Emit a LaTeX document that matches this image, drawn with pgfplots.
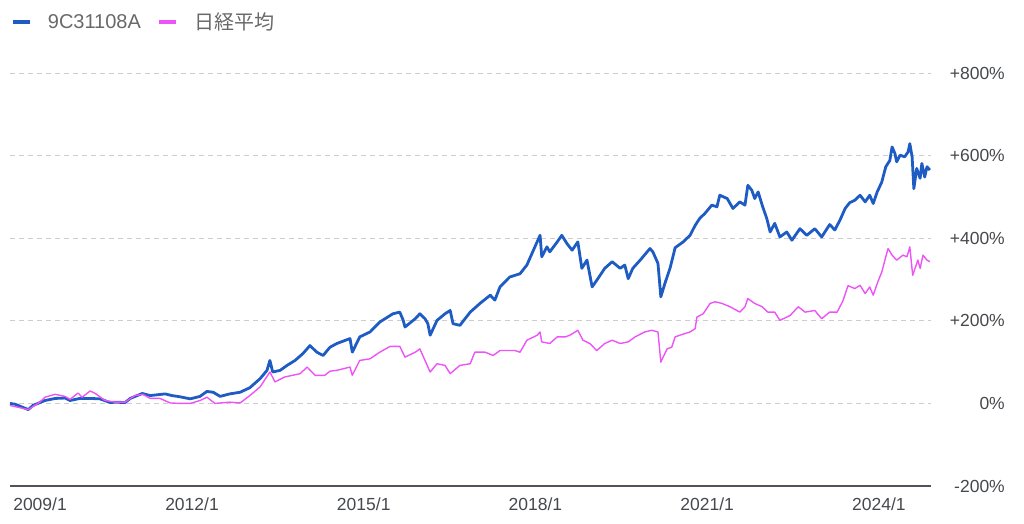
\documentclass[border=0pt]{standalone}
\usepackage{fontspec}
\setmainfont{Liberation Sans}
\newfontfamily\jp{Noto Sans CJK JP}
\usepackage{pgfplots}
\pgfplotsset{compat=1.18}
\definecolor{fundblue}{RGB}{30,92,196}
\definecolor{nikkei}{RGB}{236,84,246}
\definecolor{ticktext}{RGB}{70,72,76}
\definecolor{legtext}{RGB}{105,105,105}
\definecolor{gridc}{RGB}{205,205,205}
\definecolor{axisc}{RGB}{80,84,90}
\begin{document}
\begin{tikzpicture}
\useasboundingbox (0,0) rectangle (1024bp,524bp);
\begin{axis}[
  at={(10bp,38bp)}, anchor=south west,
  scale only axis, width=921bp, height=413bp,
  xmin=2008.82, xmax=2024.91,
  ymin=-200, ymax=800,
  axis x line*=bottom, axis y line*=right,
  x axis line style={-, draw=axisc, line width=1.3bp},
  y axis line style={draw=none},
  major tick length=0pt,
  xtick={2009.345,2012,2015,2018,2021,2024},
  xticklabels={2009/1,2012/1,2015/1,2018/1,2021/1,2024/1},
  ytick={-200,0,200,400,600,800},
  yticklabels={-200\%,0\%,+200\%,+400\%,+600\%,+800\%},
  xticklabel style={font=\fontsize{17.5bp}{20bp}\selectfont, text=ticktext, anchor=north, inner sep=0pt, yshift=-12bp},
  yticklabel style={font=\fontsize{17.5bp}{20bp}\selectfont, text=ticktext, anchor=east, inner sep=0pt, xshift=74bp},
  ymajorgrids, xmajorgrids=false,
  major grid style={draw=gridc, line width=0.9bp, dash pattern=on 5bp off 4bp},
  clip=false,
  legend style={at={(axis description cs:0,1)}, anchor=west, xshift=1bp, yshift=51bp,
    draw=none, fill=none, inner sep=0pt, column sep=15bp,
    font=\fontsize{20bp}{22bp}\selectfont, text=legtext,
    nodes={inner sep=1.5bp}},
  legend columns=2,
  legend image code/.code={\draw[#1, line width=3.2bp] (0bp,0bp) -- (17bp,0bp);},
]
\addplot[fundblue, line width=2.8bp, line join=round] coordinates {
(2008.82,0) (2008.91,-2) (2009.14,-15) (2009.22,-5) (2009.43,7) (2009.61,12)
(2009.78,13) (2009.87,7) (2010.04,12) (2010.22,12) (2010.39,11) (2010.57,2)
(2010.66,3) (2010.83,2) (2010.92,12) (2011.13,24) (2011.27,19) (2011.53,23)
(2011.65,19) (2011.79,16) (2011.97,11) (2012.14,17) (2012.26,29) (2012.37,27)
(2012.49,17) (2012.66,23) (2012.84,27) (2013.01,38) (2013.19,60) (2013.31,80)
(2013.36,104) (2013.41,76) (2013.54,80) (2013.66,92) (2013.80,104) (2013.94,121)
(2014.06,140) (2014.18,124) (2014.29,116) (2014.41,136) (2014.53,145) (2014.76,157)
(2014.80,124) (2014.93,161) (2015.11,173) (2015.28,197) (2015.51,217) (2015.63,221)
(2015.69,201) (2015.72,185) (2015.90,205) (2015.98,217) (2016.07,205) (2016.12,193)
(2016.16,165) (2016.28,201) (2016.42,217) (2016.51,225) (2016.56,193) (2016.68,189)
(2016.77,205) (2016.86,221) (2017.03,242) (2017.21,262) (2017.29,250) (2017.38,282)
(2017.55,306) (2017.73,314) (2017.85,335) (2017.99,379) (2018.08,407) (2018.11,355)
(2018.20,379) (2018.25,367) (2018.38,391) (2018.46,407) (2018.55,387) (2018.64,371)
(2018.74,391) (2018.81,327) (2018.90,347) (2018.99,282) (2019.07,298) (2019.21,327)
(2019.34,343) (2019.48,327) (2019.56,335) (2019.62,302) (2019.70,327) (2019.83,347)
(2020.00,375) (2020.05,367) (2020.14,339) (2020.19,258) (2020.26,290) (2020.35,327)
(2020.44,377) (2020.58,391) (2020.70,407) (2020.79,431) (2020.87,448) (2020.96,460)
(2021.08,480) (2021.17,476) (2021.22,504) (2021.35,496) (2021.45,472) (2021.57,488)
(2021.66,480) (2021.71,528) (2021.78,516) (2021.83,496) (2021.89,512) (2021.97,476)
(2022.04,448) (2022.10,415) (2022.18,436) (2022.27,403) (2022.39,415) (2022.48,395)
(2022.62,423) (2022.74,407) (2022.88,423) (2023.00,403) (2023.14,433) (2023.23,420)
(2023.32,444) (2023.41,472) (2023.49,486) (2023.58,492) (2023.67,504) (2023.76,488)
(2023.84,504) (2023.90,484) (2023.97,512) (2024.05,536) (2024.12,573) (2024.19,588)
(2024.23,621) (2024.28,605) (2024.31,585) (2024.37,601) (2024.45,597) (2024.51,609)
(2024.54,629) (2024.58,597) (2024.61,520) (2024.66,569) (2024.72,545) (2024.75,581)
(2024.80,548) (2024.84,573) (2024.89,565)
};
\addlegendentry{9C31108A}
\addplot[nikkei, line width=1.4bp, line join=round] coordinates {
(2008.82,-5) (2009.14,-15) (2009.34,3) (2009.43,15) (2009.61,22) (2009.78,17)
(2009.87,10) (2010.01,25) (2010.08,15) (2010.22,30) (2010.31,24) (2010.48,7)
(2010.66,3) (2010.83,3) (2011.00,19) (2011.14,22) (2011.27,12) (2011.44,12)
(2011.62,1) (2011.79,0) (2011.97,0) (2012.14,7) (2012.26,15) (2012.40,0)
(2012.66,3) (2012.84,1) (2013.01,19) (2013.19,40) (2013.36,76) (2013.45,52)
(2013.62,64) (2013.89,72) (2014.01,88) (2014.15,68) (2014.32,68) (2014.41,78)
(2014.53,80) (2014.76,88) (2014.80,68) (2014.93,104) (2015.11,108) (2015.28,124)
(2015.46,138) (2015.63,138) (2015.72,112) (2015.90,124) (2015.98,132) (2016.07,104)
(2016.16,76) (2016.28,96) (2016.42,92) (2016.51,72) (2016.68,92) (2016.86,96)
(2016.94,124) (2017.12,124) (2017.26,116) (2017.38,128) (2017.64,128) (2017.73,124)
(2017.85,153) (2018.03,165) (2018.08,173) (2018.11,149) (2018.25,145) (2018.38,161)
(2018.52,161) (2018.60,165) (2018.74,177) (2018.83,153) (2018.95,145) (2019.07,128)
(2019.21,145) (2019.34,153) (2019.48,145) (2019.62,149) (2019.74,161) (2019.91,173)
(2020.03,177) (2020.14,173) (2020.19,100) (2020.23,112) (2020.30,132) (2020.38,136)
(2020.44,161) (2020.52,165) (2020.70,173) (2020.79,181) (2020.82,209) (2020.93,217)
(2021.05,242) (2021.14,246) (2021.26,242) (2021.40,234) (2021.57,221) (2021.66,234)
(2021.71,254) (2021.83,242) (2021.96,234) (2022.06,221) (2022.18,221) (2022.27,201)
(2022.45,213) (2022.59,234) (2022.71,221) (2022.88,225) (2023.00,205) (2023.14,221)
(2023.27,221) (2023.37,248) (2023.46,285) (2023.58,278) (2023.67,286) (2023.76,266)
(2023.84,282) (2023.90,262) (2023.98,294) (2024.05,318) (2024.12,355) (2024.16,375)
(2024.23,359) (2024.31,347) (2024.42,359) (2024.49,355) (2024.54,379) (2024.59,310)
(2024.68,347) (2024.72,327) (2024.77,359) (2024.84,347) (2024.89,343)
};
\addlegendentry{{\jp 日経平均}}
\end{axis}
\end{tikzpicture}
\end{document}
